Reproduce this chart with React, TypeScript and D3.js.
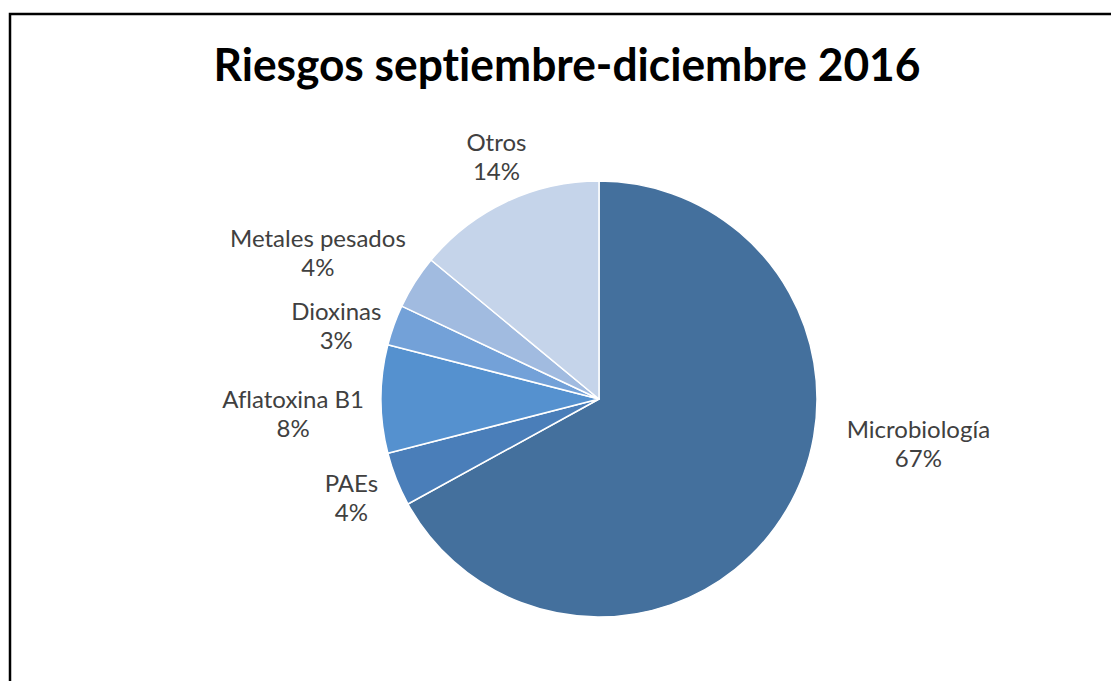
import * as d3 from "d3";
import { useEffect, useRef } from "react";

const labels = ["Microbiología", "PAEs", "Aflatoxina B1", "Dioxinas", "Metales pesados", "Otros"];
const values = [67, 4, 8, 3, 4, 14];
const colors = ["#44709d", "#4a7eb9", "#5591cf", "#73a1d8", "#a1bbe0", "#c5d4ea"];
const title = "Riesgos septiembre-diciembre 2016";

// nudges to mimic Excel's "best fit" label placement
const nudge: { [k: string]: [number, number] } = {
    "Microbiología": [58, -86],
    "PAEs": [-7, 4],
    "Aflatoxina B1": [-3, 16],
    "Dioxinas": [-2, 17],
    "Metales pesados": [-11, -5],
    "Otros": [9, -4],
};

export default function App() {
    const ref = useRef<SVGSVGElement | null>(null);

    useEffect(() => {
        if (!ref.current) return;
        const svg = d3.select(ref.current);
        svg.selectAll("*").remove();

        const width = 1111;
        const height = 681;
        const cx = 599;
        const cy = 399;
        const r = 218;
        const font = "Lato, 'Open Sans', sans-serif";

        svg.append("rect")
            .attr("width", width)
            .attr("height", height)
            .attr("fill", "#fff");

        // chart frame (runs off right and bottom of the crop)
        svg.append("rect")
            .attr("x", 10)
            .attr("y", 14)
            .attr("width", width + 50)
            .attr("height", height + 50)
            .attr("fill", "none")
            .attr("stroke", "#000")
            .attr("stroke-width", 2.5);

        svg.append("text")
            .attr("x", 567)
            .attr("y", 81)
            .attr("text-anchor", "middle")
            .attr("font-family", font)
            .attr("font-weight", "bold")
            .attr("font-size", 45)
            .attr("textLength", 707)
            .attr("lengthAdjust", "spacingAndGlyphs")
            .style("font-variant-ligatures", "none")
            .attr("fill", "#000")
            .text(title);

        const data = labels.map((label, i) => ({ label, value: values[i], color: colors[i] }));
        const pie = d3
            .pie<{ label: string; value: number; color: string }>()
            .sort(null)
            .value((d) => d.value);
        const arcs = pie(data);
        const arc = d3
            .arc<d3.PieArcDatum<{ label: string; value: number; color: string }>>()
            .innerRadius(0)
            .outerRadius(r);

        const g = svg.append("g").attr("transform", `translate(${cx},${cy})`);
        g.selectAll("path")
            .data(arcs)
            .join("path")
            .attr("d", arc)
            .attr("fill", (d) => d.data.color)
            .attr("stroke", "#fff")
            .attr("stroke-width", 1.5)
            .attr("stroke-linejoin", "round");

        const lineH = 29;
        const total = d3.sum(values);
        arcs.forEach((a) => {
            const mid = (a.startAngle + a.endAngle) / 2;
            const ux = Math.sin(mid);
            const uy = -Math.cos(mid);
            const t = g
                .append("text")
                .attr("text-anchor", "middle")
                .attr("font-family", font)
                .attr("font-size", 24)
                .style("font-variant-ligatures", "none")
                .attr("fill", "#404040");
            t.append("tspan").attr("x", 0).attr("dy", 0).text(a.data.label);
            t.append("tspan")
                .attr("x", 0)
                .attr("dy", lineH)
                .text(`${Math.round((a.data.value / total) * 100)}%`);
            const w = (t.node() as SVGTextElement).getBBox().width;
            const h = 58;
            const px = ux * (r + 14);
            const py = uy * (r + 14);
            const [nx, ny] = nudge[a.data.label] ?? [0, 0];
            const bx = px + (ux * w) / 2 + nx;
            const by = py + (uy * h) / 2 + ny;
            // block centre -> first baseline
            t.attr("transform", `translate(${bx},${by - lineH / 2 + 7})`);
        });
    }, []);

    return (
        <svg
            ref={ref}
            width={1111}
            height={681}
            style={{ position: "absolute", left: 0, top: 0 }}
        ></svg>
    );
}
